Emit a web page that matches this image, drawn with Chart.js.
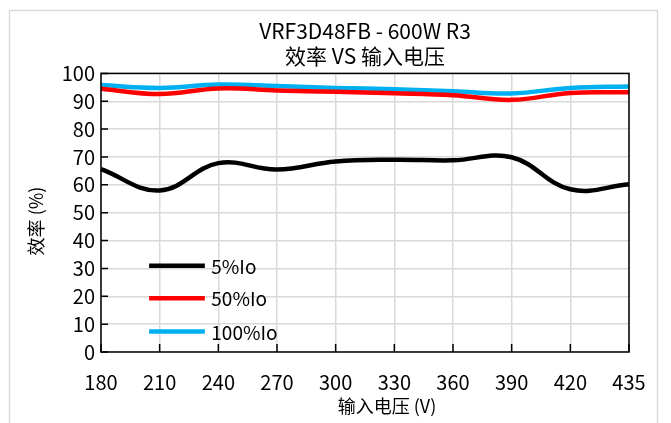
<!DOCTYPE html>
<html>
<head>
<meta charset="utf-8">
<script src="https://cdn.jsdelivr.net/npm/chart.js@4.4.0/dist/chart.umd.min.js"></script>
<style>
  html, body { margin: 0; padding: 0; background: #fff; }
  #wrap { width: 671px; height: 423px; position: relative; }
</style>
</head>
<body>
<div id="wrap"><canvas id="effChart"></canvas></div>
<script>
const voltages = ['180', '210', '240', '270', '300', '330', '360', '390', '420', '435'];
const eff5 = [65.6, 58.0, 67.8, 65.5, 68.4, 69.0, 68.8, 69.9, 58.4, 60.2];
const eff50 = [94.5, 92.6, 94.6, 93.9, 93.4, 92.9, 92.2, 90.5, 93.0, 93.2];
const eff100 = [95.8, 94.8, 96.0, 95.5, 94.8, 94.3, 93.6, 92.8, 94.8, 95.3];
const seriesNames = ['5%Io', '50%Io', '100%Io'];
const seriesColors = ['#000000', '#ff0000', '#00b0f0'];

const FONT = '"Noto Sans CJK SC", sans-serif';

// 外框 + 坐标轴标题 + 内侧刻度 + 图例
const decor = {
    id: 'decor',
    beforeDraw(chart) {
        const ctx = chart.ctx;
        ctx.save();
        ctx.fillStyle = '#fff';
        ctx.fillRect(0, 0, chart.width, chart.height);
        ctx.strokeStyle = '#d9d9d9';
        ctx.lineWidth = 1.5;
        ctx.strokeRect(9.5, 10.5, 648, 430);
        ctx.restore();
    },
    afterDatasetsDraw(chart) {
        const ctx = chart.ctx;
        const a = chart.chartArea;
        const x = chart.scales.x, y = chart.scales.y;
        ctx.save();

        // 内侧刻度
        ctx.strokeStyle = '#000';
        ctx.lineWidth = 1.5;
        ctx.beginPath();
        y.ticks.forEach(t => {
            const py = y.getPixelForValue(t.value);
            ctx.moveTo(a.left, py);
            ctx.lineTo(a.left + 7, py);
        });
        voltages.forEach((v, i) => {
            const px = x.getPixelForValue(i);
            ctx.moveTo(px, a.bottom);
            ctx.lineTo(px, a.bottom - 8);
        });
        ctx.stroke();

        // 绘图区边框
        ctx.strokeRect(a.left, a.top, a.right - a.left, a.bottom - a.top);

        // 图例（在绘图区内左下）
        const step = (a.right - a.left) / (voltages.length - 1);
        const legendVals = [31, 19.3, 7.4];
        ctx.font = '19px ' + FONT;
        ctx.textBaseline = 'middle';
        ctx.textAlign = 'left';
        seriesNames.forEach((name, i) => {
            const py = y.getPixelForValue(legendVals[i]);
            ctx.strokeStyle = seriesColors[i];
            ctx.lineWidth = 4.5;
            ctx.beginPath();
            ctx.moveTo(a.left + step * 0.82, py);
            ctx.lineTo(a.left + step * 1.77, py);
            ctx.stroke();
            ctx.fillStyle = '#000';
            ctx.fillText(name, a.left + step * 1.88, py + 1);
        });

        // 坐标轴标题
        ctx.fillStyle = '#000';
        ctx.font = '18px ' + FONT;
        ctx.textAlign = 'center';
        ctx.fillText('输入电压 (V)', (a.left + a.right) / 2 + 22, 406);
        ctx.translate(36, 221);
        ctx.rotate(-Math.PI / 2);
        ctx.fillText('效率 (%)', 0, 0);
        ctx.restore();
    }
};

const ctx = document.getElementById('effChart').getContext('2d');
new Chart(ctx, {
    type: 'line',
    data: {
        labels: voltages,
        datasets: [eff5, eff50, eff100].map((d, i) => ({
            label: seriesNames[i],
            data: d,
            borderColor: seriesColors[i],
            borderWidth: 4.5,
            pointRadius: 0,
            tension: 0.4,
            fill: false
        }))
    },
    options: {
        responsive: true,
        maintainAspectRatio: false,
        animation: false,
        layout: { padding: { left: 0, right: 42, top: 0, bottom: 0 } },
        plugins: {
            legend: { display: false },
            tooltip: { enabled: false },
            title: {
                display: true,
                fullSize: false,
                text: ['VRF3D48FB - 600W R3', '效率 VS 输入电压'],
                color: '#000',
                font: { family: FONT, size: 21, weight: 'normal', lineHeight: 1.2 },
                padding: { top: 18, bottom: 5 }
            }
        },
        scales: {
            x: {
                type: 'category',
                offset: false,
                afterFit: s => { s.height = 71; },
                grid: { color: '#d9d9d9', lineWidth: 1.5, tickLength: 0, drawTicks: false },
                border: { display: false },
                ticks: {
                    color: '#000',
                    padding: 18,
                    maxRotation: 0,
                    autoSkip: false,
                    font: { family: FONT, size: 20 }
                }
            },
            y: {
                min: 0,
                max: 100,
                afterFit: s => { s.width = 101; },
                grid: { color: '#d9d9d9', lineWidth: 1.5, drawTicks: false },
                border: { display: false },
                ticks: {
                    stepSize: 10,
                    color: '#000',
                    padding: 6,
                    font: { family: FONT, size: 20 }
                }
            }
        }
    },
    plugins: [decor]
});
</script>
</body>
</html>
